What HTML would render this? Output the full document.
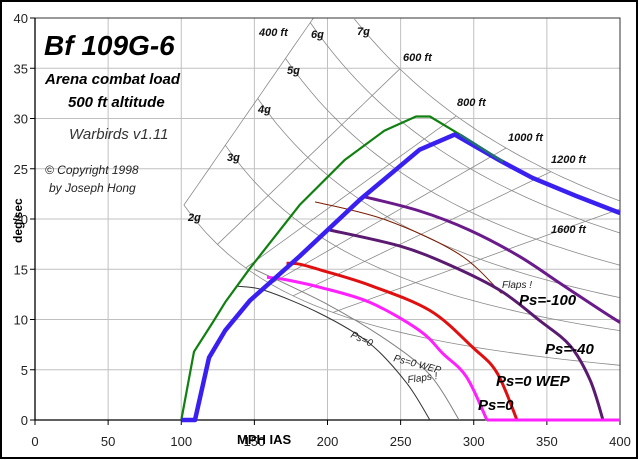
<!DOCTYPE html>
<html><head><meta charset="utf-8"><style>
html,body{margin:0;padding:0;background:#fff}
svg{display:block;font-family:"Liberation Sans",Arial,sans-serif}
</style></head><body>
<svg id="s" width="640" height="460" viewBox="0 0 640 460" xmlns="http://www.w3.org/2000/svg">
<rect x="0" y="0" width="640" height="460" fill="#fff"/>
<rect x="1" y="1" width="636" height="457" fill="none" stroke="#000" stroke-width="2"/>
<g id="grid" stroke="#c0c0c0" stroke-width="1"></g>
<g id="gl" fill="none" stroke="#8a8a8a" stroke-width="0.8"></g>
<rect x="35" y="18" width="585" height="402" fill="none" stroke="#333" stroke-width="1"/>
<line x1="35" y1="18" x2="35" y2="420" stroke="#000" stroke-width="1.3"/>
<line x1="35" y1="420" x2="620" y2="420" stroke="#000" stroke-width="1.3"/>
<g id="ticks" stroke="#000" stroke-width="1"></g>
<g id="curves" fill="none" stroke-linejoin="round"></g>
<g font-size="13" fill="#222" id="tl"></g>
<g font-style="italic" font-weight="bold" font-size="11" fill="#111">
<text x="259" y="36">400 ft</text><text x="311" y="38">6g</text><text x="357" y="35">7g</text>
<text x="403" y="61">600 ft</text><text x="457" y="106">800 ft</text><text x="508" y="141">1000 ft</text>
<text x="551" y="163">1200 ft</text><text x="551" y="233">1600 ft</text>
<text x="287" y="74">5g</text><text x="258" y="113">4g</text><text x="227" y="161">3g</text><text x="188" y="221">2g</text>
</g>
<text x="44" y="55" font-size="28" font-weight="bold" font-style="italic" fill="#000">Bf 109G-6</text>
<text x="45" y="84" font-size="15" font-weight="bold" font-style="italic" fill="#000">Arena combat load</text>
<text x="68" y="107" font-size="15" font-weight="bold" font-style="italic" fill="#000">500 ft altitude</text>
<text x="69" y="139" font-size="15" font-style="italic" fill="#333">Warbirds v1.11</text>
<text x="45" y="174" font-size="12" font-style="italic" fill="#222">© Copyright 1998</text>
<text x="49" y="192" font-size="12" font-style="italic" fill="#222">by Joseph Hong</text>
<text transform="translate(22,243) rotate(-90)" font-size="12" font-weight="bold" fill="#000">deg/sec</text>
<text x="237" y="444" font-size="13" font-weight="bold" fill="#000">MPH IAS</text>
<g font-style="italic" font-weight="bold" font-size="15" fill="#000">
<text x="519" y="305">Ps=-100</text><text x="545" y="354">Ps=-40</text>
<text x="496" y="386">Ps=0 WEP</text><text x="478" y="410">Ps=0</text>
</g>
<g font-style="italic" font-size="10" fill="#222">
<text x="502" y="288">Flaps !</text>
<text x="350" y="337" transform="rotate(25 350 337)">Ps=0</text>
<text x="393" y="361" transform="rotate(15 393 361)">Ps=0 WEP</text>
<text x="408" y="383" transform="rotate(-8 408 383)">Flaps !</text>
</g>
</svg>
<script>
var NS="http://www.w3.org/2000/svg";
function X(v){return 35+v*1.4625}function Y(w){return 420-w*10.05}
function el(p,t,a){var e=document.createElementNS(NS,t);for(var k in a)e.setAttribute(k,a[k]);document.getElementById(p).appendChild(e);return e}
for(var v=50;v<400;v+=50)el("grid","line",{x1:X(v),y1:18,x2:X(v),y2:420});
for(var w=5;w<40;w+=5)el("grid","line",{x1:35,y1:Y(w),x2:620,y2:Y(w)});
for(var v=0;v<=400;v+=50){el("ticks","line",{x1:X(v),y1:420,x2:X(v),y2:425});var t=el("tl","text",{x:X(v),y:446,"text-anchor":"middle"});t.textContent=v;}
for(var w=0;w<=40;w+=5){el("ticks","line",{x1:30,y1:Y(w),x2:35,y2:Y(w)});var t=el("tl","text",{x:28,y:Y(w)+5,"text-anchor":"end"});t.textContent=w;}
function clipPath(pts){var d="";pts.forEach(function(p,i){d+=(i?"L":"M")+X(p[0]).toFixed(1)+","+Y(Math.min(p[1],40)).toFixed(1)});return d}
var K=84.03,G=1258;
function gw(n,v){return G*Math.sqrt(n*n-1)/v}
[400,600,800,1000,1200,1600].forEach(function(R){
 var v0=Math.sqrt(G*Math.sqrt(3)*R/K),v1=Math.min(400,Math.sqrt(G*Math.sqrt(48)*R/K));
 v1=Math.min(v1,40*R/K);var pts=[];for(var i=0;i<=20;i++){var v=v0+(v1-v0)*i/20;pts.push([v,K*v/R])}
 el("gl","path",{d:clipPath(pts)});});
[2,3,4,5,6,7].forEach(function(n){
 var v0=Math.sqrt(G*Math.sqrt(n*n-1)*400/K);var pts=[];
 for(var i=0;i<=40;i++){var v=v0+(400-v0)*i/40;var w=gw(n,v);if(w<=40.5)pts.push([v,w])}
 el("gl","path",{d:clipPath(pts)});});
function C(pts,col,wd,smooth){
 var P=pts.map(function(p){return [X(p[0]),Y(p[1])]});
 var d="M"+P[0][0].toFixed(1)+","+P[0][1].toFixed(1);
 for(var i=0;i<P.length-1;i++){
  if(!smooth){d+="L"+P[i+1][0].toFixed(1)+","+P[i+1][1].toFixed(1);continue}
  var p0=P[Math.max(0,i-1)],p1=P[i],p2=P[i+1],p3=P[Math.min(P.length-1,i+2)];
  var c1=[p1[0]+(p2[0]-p0[0])/6,p1[1]+(p2[1]-p0[1])/6],c2=[p2[0]-(p3[0]-p1[0])/6,p2[1]-(p3[1]-p1[1])/6];
  d+="C"+c1[0].toFixed(1)+","+c1[1].toFixed(1)+" "+c2[0].toFixed(1)+","+c2[1].toFixed(1)+" "+p2[0].toFixed(1)+","+p2[1].toFixed(1);
 }
 el("curves","path",{d:d,stroke:col,"stroke-width":wd})}
C([[150,15],[200,11.5],[240,8],[270,4.5],[290,0]],"#808080",1,1);
C([[138.8,13.3],[157,12.9],[194.9,10.6],[229,7.6],[254,3.7],[270,0]],"#333",1,1);
C([[191.5,21.7],[240,19.9],[290,16.5],[319,12.6]],"#7a1a00",1,1);
C([[225.6,22.2],[263,20.8],[297,18.9],[331,16.3],[359,13.6],[386,11.0],[400,9.7]],"#6a1a8a",3,1);
C([[201.7,18.9],[249.6,17.3],[283.8,15.4],[318,12.9],[345,9.9],[365.8,7.4],[379.5,4],[388.4,0]],"#5a1a70",3,1);
C([[172,15.6],[181,15.5],[196,14.9],[229,13.4],[270,10.9],[299.5,7.2],[315.9,4.7],[329.6,0]],"#e01010",3,1);
C([[158.6,14.2],[170,14],[194.9,13.2],[229,11.7],[263,8.9],[279,6.6],[295,4.3],[309,0]],"#ff20ff",3,1);
C([[309,0],[400,0]],"#ff20ff",3,0);
C([[100,0],[108.7,6.8],[121.7,9.75],[130,11.7],[147,15.1],[181,21.4],[212,25.9],[239,28.8],[260.5,30.2],[270,30.2],[290.6,28.4]],"#108010",2.2,0);
C([[100,0],[109.4,0],[119,6.2],[130,8.9],[147,11.9],[181,16.3],[222,21.9],[263,26.9],[287,28.4],[318,25.8],[340,24.1],[370,22.3],[400,20.6]],"#3a20f0",4.5,0);
C([[290.6,28.4],[320,25.7]],"#207070",2.5,0);
</script>
</body></html>
